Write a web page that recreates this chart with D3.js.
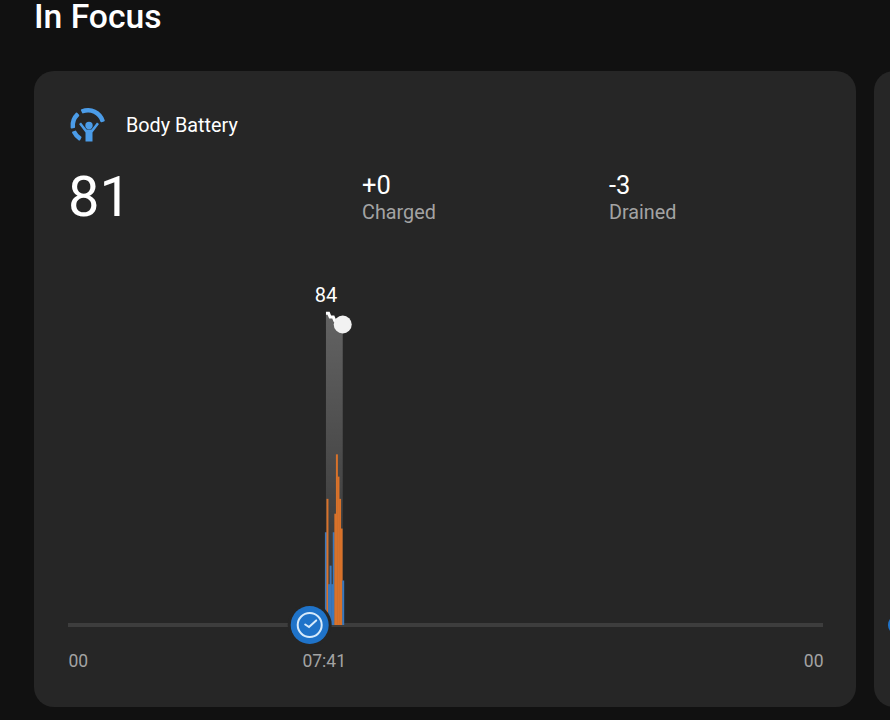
<!DOCTYPE html>
<html>
  <head>
    <meta http-equiv="Content-Type" content="text/html;charset=utf-8"/>
    <title>Body Battery</title>
    <script src="https://d3js.org/d3.v7.min.js"></script>
    <style>
      html, body { margin: 0; padding: 0; background: #111; overflow: hidden; }
      svg { display: block; font-family: Roboto, sans-serif; }
    </style>
  </head>
  <body>
    <script type="text/javascript">
      // minutes since midnight
      const batteryTimes = [492, 497, 500, 506, 509, 524]
      const batteryValues = [84, 84, 83, 83, 82, 81]

      // stress samples, one every 3 minutes from 08:10
      const stressTimes = [490, 493, 496, 499, 502, 505, 508, 511, 514, 517, 520, 523]
      const stressValues = [25, 34, 11, 16, 11, 25, 30, 46, 40, 34, 26, 12]
      const stressKinds = ['rest', 'stress', 'rest', 'rest', 'rest', 'rest', 'stress', 'stress', 'stress', 'stress', 'stress', 'rest']

      const tickTimes = [0, 461, 1440]
      const tickLabels = ['00', '07:41', '00']
      const markerTime = 461
      const peakValue = 84

      const width = 890, height = 720

      const svg = d3.select('body').append('svg')
        .attr('width', width)
        .attr('height', height)

      svg.append('rect').attr('width', width).attr('height', height).attr('fill', '#111')

      svg.append('rect').attr('x', 34).attr('y', 71).attr('width', 822).attr('height', 636).attr('rx', 20).attr('fill', '#262626')
      svg.append('rect').attr('x', 874).attr('y', 71).attr('width', 60).attr('height', 636).attr('rx', 20).attr('fill', '#262626')

      svg.append('text').attr('x', 34).attr('y', 28).attr('fill', '#fff')
        .attr('font-size', 33.7).attr('font-weight', 500).text('In Focus')

      // header
      svg.append('text').attr('x', 126).attr('y', 132).attr('fill', '#fff').attr('font-size', 19.8).text('Body Battery')
      svg.append('text').attr('x', 68).attr('y', 216).attr('fill', '#fff').attr('font-size', 56).text('81')
      svg.append('text').attr('x', 362).attr('y', 194).attr('fill', '#fff').attr('font-size', 25.5).text('+0')
      svg.append('text').attr('x', 362).attr('y', 219).attr('fill', '#a3a3a3').attr('font-size', 19.8).text('Charged')
      svg.append('text').attr('x', 609).attr('y', 194).attr('fill', '#fff').attr('font-size', 25.5).text('-3')
      svg.append('text').attr('x', 609).attr('y', 219).attr('fill', '#a3a3a3').attr('font-size', 19.8).text('Drained')

      // icon
      const icon = svg.append('g').attr('transform', 'translate(88,125.5)')
      const iconArc = d3.arc().innerRadius(13).outerRadius(17.5).cornerRadius(1)
      const iconBlue = '#4b9ce8'
      icon.append('path').attr('d', iconArc({ startAngle: -0.44, endAngle: 1.33 })).attr('fill', iconBlue)
      icon.append('path').attr('d', iconArc({ startAngle: -1.75, endAngle: -0.7 })).attr('fill', iconBlue)
      icon.append('path').attr('d', iconArc({ startAngle: -2.65, endAngle: -1.95 })).attr('fill', iconBlue)
      icon.append('circle').attr('cx', 1).attr('cy', 0).attr('r', 3.7).attr('fill', iconBlue)
      icon.append('path').attr('d', 'M-9,-1.5 L-7,-3 L-1.5,4 L3.5,4 L9,-3 L11,-1.5 L4.5,7 L4.5,16 L-2.5,16 L-2.5,7 Z').attr('fill', iconBlue)

      // chart
      const x = d3.scaleLinear().domain([0, 1440]).range([68, 823])
      const y = d3.scaleLinear().domain([0, 100]).range([625, 254])
      const barWidth = x(3) - x(0)

      const defs = svg.append('defs')
      const grad = defs.append('linearGradient').attr('id', 'bbFill')
        .attr('x1', 0).attr('y1', 0).attr('x2', 0).attr('y2', 1)
      grad.append('stop').attr('offset', '0%').attr('stop-color', '#fff').attr('stop-opacity', 0.28)
      grad.append('stop').attr('offset', '100%').attr('stop-color', '#fff').attr('stop-opacity', 0.04)

      svg.append('line').attr('x1', x(0)).attr('x2', x(1440)).attr('y1', y(0)).attr('y2', y(0))
        .attr('stroke', '#3d3d3d').attr('stroke-width', 4)

      const batteryData = batteryTimes.map((t, i) => ({ t: t, v: batteryValues[i] }))

      svg.append('path').datum(batteryData)
        .attr('fill', 'url(#bbFill)')
        .attr('d', d3.area().x(d => x(d.t)).y0(y(0)).y1(d => y(d.v)))

      svg.selectAll('rect.stress')
        .data(stressTimes.map((t, i) => ({ t: t, v: stressValues[i], kind: stressKinds[i] })))
        .enter()
        .append('rect')
        .attr('class', 'stress')
        .attr('x', d => x(d.t))
        .attr('width', barWidth + 0.4)
        .attr('y', d => y(d.v))
        .attr('height', d => y(0) - y(d.v))
        .attr('fill', d => d.kind === 'rest' ? '#3a78bd' : '#d9722a')

      svg.append('path').datum(batteryData)
        .attr('fill', 'none').attr('stroke', '#fff').attr('stroke-width', 3)
        .attr('d', d3.line().x(d => x(d.t)).y(d => y(d.v)))

      const last = batteryData[batteryData.length - 1]
      svg.append('circle').attr('cx', x(last.t)).attr('cy', y(last.v)).attr('r', 9).attr('fill', '#f2f2f2')

      svg.append('text').attr('x', x(batteryTimes[0])).attr('y', y(peakValue) - 11)
        .attr('text-anchor', 'middle').attr('fill', '#fff').attr('font-size', 20).text(peakValue)

      // time axis
      const axis = svg.append('g')
        .attr('transform', `translate(0,${y(0)})`)
        .call(d3.axisBottom(x).tickValues(tickTimes).tickSize(0).tickPadding(30)
          .tickFormat((d, i) => tickLabels[i]))
      axis.select('.domain').remove()
      axis.selectAll('text')
        .attr('font-family', 'Roboto, sans-serif')
        .attr('font-size', 17.5)
        .attr('fill', '#a3a3a3')
        .attr('text-anchor', (d, i) => i === 0 ? 'start' : i === tickTimes.length - 1 ? 'end' : 'middle')
        .attr('dx', (d, i) => i === 1 ? 14 : 0)

      // clock marker
      const clock = svg.append('g').attr('transform', `translate(${x(markerTime)},${y(0)})`)
      clock.append('circle').attr('r', 22).attr('fill', '#262626')
      clock.append('circle').attr('r', 19).attr('fill', '#1f73c9')
      clock.append('circle').attr('r', 12).attr('fill', 'none').attr('stroke', '#d6eafb').attr('stroke-width', 2)
      clock.append('path').attr('d', 'M-4.5,-0.5 L-0.7,2 L6.5,-4.6').attr('fill', 'none').attr('stroke', '#d6eafb')
        .attr('stroke-width', 2).attr('stroke-linecap', 'round')

      // start of the next card
      svg.append('circle').attr('cx', 898).attr('cy', y(0)).attr('r', 10).attr('fill', '#1f73c9')
    </script>
  </body>
</html>
